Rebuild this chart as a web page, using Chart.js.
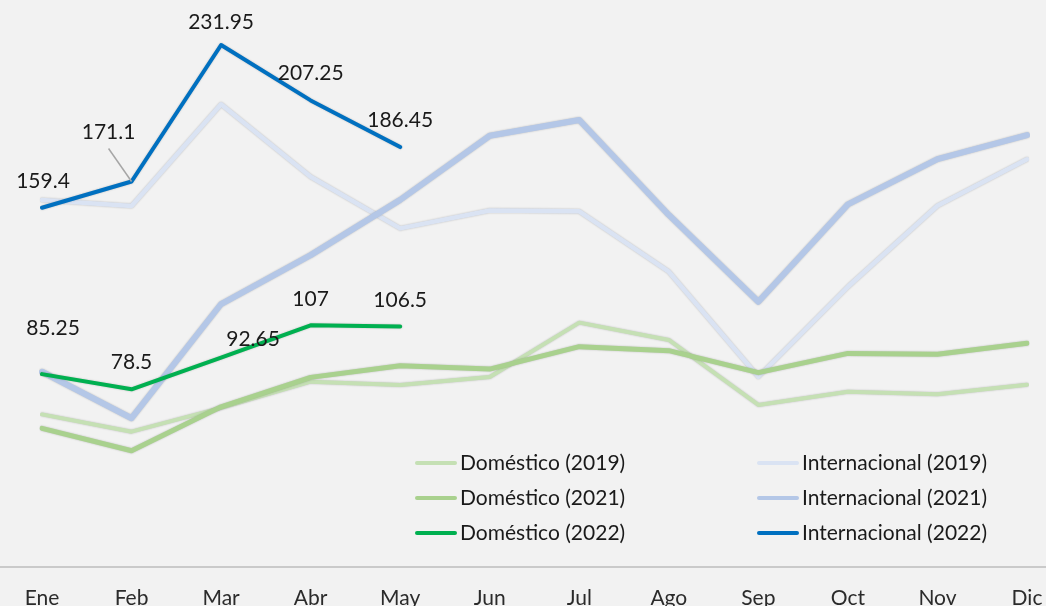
<!DOCTYPE html>
<html>
<head>
<meta charset="utf-8">
<script src="https://cdn.jsdelivr.net/npm/chart.js@4.4.0/dist/chart.umd.min.js"></script>
<style>
html, body { margin: 0; padding: 0; background: #f2f2f2; }
#wrap { width: 1046px; height: 606px; position: relative; }
</style>
</head>
<body>
<div id="wrap"><canvas id="drawChart"></canvas></div>
<script>
// categories and series
var months = ['Ene', 'Feb', 'Mar', 'Abr', 'May', 'Jun', 'Jul', 'Ago', 'Sep', 'Oct', 'Nov', 'Dic'];
var dom2019 = [67.3, 59.6, 70.2, 81.9, 80.4, 84, 108.2, 100.5, 71.5, 77.4, 76.3, 80.5];
var dom2021 = [61.1, 51.1, 70.7, 83.8, 89, 87.5, 97.5, 95.7, 85.9, 94.5, 94.1, 99];
var dom2022 = [85.25, 78.5, 92.65, 107, 106.5];
var int2019 = [162.9, 160.2, 205.5, 173.2, 150.2, 158.2, 157.8, 130.9, 84.1, 124.2, 160.3, 181];
var int2021 = [86.3, 65.6, 116.5, 138.3, 162.9, 191.5, 198.5, 156.2, 117.5, 160.9, 181.1, 191.8];
var int2022 = [159.4, 171.1, 231.95, 207.25, 186.45];
var seriesNames = ['Doméstico (2019)', 'Doméstico (2021)', 'Doméstico (2022)',
	'Internacional (2019)', 'Internacional (2021)', 'Internacional (2022)'];
var yMin = 0, yMax = 250;

// where the value labels sit relative to their point (dx, dy, leader line)
var labelOffsets = {
	2: [[11, -46], [0, -27], [32, -18.5], [0, -26], [0, -26]],
	5: [[1, -27], [-23, -49, true], [0, -22.5], [0, -27], [0, -27]]
};

var FONT = 'Lato';

var bgPlugin = {
	id: 'bg',
	beforeDraw: function (chart) {
		var ctx = chart.ctx;
		ctx.save();
		ctx.fillStyle = '#f2f2f2';
		ctx.fillRect(0, 0, chart.width, chart.height);
		ctx.restore();
	},
	afterDraw: function (chart) {
		// category axis line runs across the whole width
		var ctx = chart.ctx;
		var y = chart.chartArea.bottom + 1.5;
		ctx.save();
		ctx.strokeStyle = '#bcbcbc';
		ctx.lineWidth = 1.5;
		ctx.beginPath();
		ctx.moveTo(0, y);
		ctx.lineTo(chart.width, y);
		ctx.stroke();
		ctx.restore();
	}
};

var shadowPlugin = {
	id: 'shadow',
	beforeDatasetDraw: function (chart) {
		var ctx = chart.ctx;
		ctx.save();
		ctx.shadowColor = 'rgba(0,0,0,0.22)';
		ctx.shadowBlur = 2;
	},
	afterDatasetDraw: function (chart) {
		chart.ctx.restore();
	}
};

var labelPlugin = {
	id: 'valueLabels',
	afterDatasetsDraw: function (chart) {
		var ctx = chart.ctx;
		ctx.save();
		ctx.font = '21px ' + FONT;
		ctx.fillStyle = '#1a1a1a';
		ctx.textAlign = 'center';
		ctx.textBaseline = 'middle';
		Object.keys(labelOffsets).forEach(function (key) {
			var i = parseInt(key, 10);
			var meta = chart.getDatasetMeta(i);
			var values = chart.data.datasets[i].data;
			meta.data.forEach(function (pt, j) {
				var off = labelOffsets[i][j] || [0, -27];
				var lx = pt.x + off[0], ly = pt.y + off[1];
				if (off[2]) {
					ctx.save();
					ctx.strokeStyle = '#a6a6a6';
					ctx.lineWidth = 1.5;
					ctx.beginPath();
					ctx.moveTo(lx, ly + 16);
					ctx.lineTo(pt.x, pt.y);
					ctx.stroke();
					ctx.restore();
				}
				ctx.fillText(String(values[j]), lx, ly);
			});
		});
		ctx.restore();
	}
};

var legendPlugin = {
	id: 'gridLegend',
	afterDraw: function (chart) {
		var ctx = chart.ctx;
		var colX = [415, 757];
		ctx.save();
		ctx.font = '21px ' + FONT;
		ctx.fillStyle = '#1a1a1a';
		ctx.textBaseline = 'middle';
		ctx.textAlign = 'left';
		chart.data.datasets.forEach(function (ds, i) {
			var col = Math.floor(i / 3), row = i % 3;
			var x = colX[col], y = 463 + row * 35;
			ctx.save();
			ctx.strokeStyle = ds.borderColor;
			ctx.lineWidth = Math.min(ds.borderWidth, 4);
			ctx.lineCap = 'round';
			ctx.beginPath();
			ctx.moveTo(x + 2, y);
			ctx.lineTo(x + 40, y);
			ctx.stroke();
			ctx.restore();
			ctx.fillText(ds.label, x + 45, y);
		});
		ctx.restore();
	}
};

function makeSet(idx, data, color, width, order) {
	return {
		label: seriesNames[idx],
		data: data,
		borderColor: color,
		backgroundColor: color,
		borderWidth: width,
		pointRadius: 0,
		pointHoverRadius: 0,
		tension: 0,
		fill: false,
		borderCapStyle: 'round',
		borderJoinStyle: 'round',
		order: order
	};
}

var ctx = document.getElementById('drawChart').getContext('2d');
var drawChart = new Chart(ctx, {
	type: 'line',
	data: {
		labels: months,
		datasets: [
			makeSet(0, dom2019, '#c5e0b4', 4, 2),
			makeSet(1, dom2021, '#a9d18e', 5, 1),
			makeSet(2, dom2022, '#00b050', 4, 0),
			makeSet(3, int2019, '#dae3f3', 4.5, 2),
			makeSet(4, int2021, '#b4c7e7', 6, 1),
			makeSet(5, int2022, '#0070c0', 4, 0)
		]
	},
	options: {
		responsive: true,
		maintainAspectRatio: false,
		animation: false,
		layout: { padding: { top: 4.5, left: 42, right: 19, bottom: 0 } },
		plugins: {
			legend: { display: false },
			tooltip: { enabled: false }
		},
		scales: {
			x: {
				grid: { display: false, drawTicks: false },
				border: { display: false },
				ticks: {
					font: { family: FONT, size: 21 },
					color: '#2b2b2b',
					padding: 20,
					maxRotation: 0,
					autoSkip: false
				},
				afterFit: function (scale) {
					scale.height = 40.6;
					scale.paddingLeft = 0;
					scale.paddingRight = 0;
				}
			},
			y: {
				display: false,
				min: yMin,
				max: yMax
			}
		}
	},
	plugins: [bgPlugin, shadowPlugin, labelPlugin, legendPlugin]
});
</script>
</body>
</html>
